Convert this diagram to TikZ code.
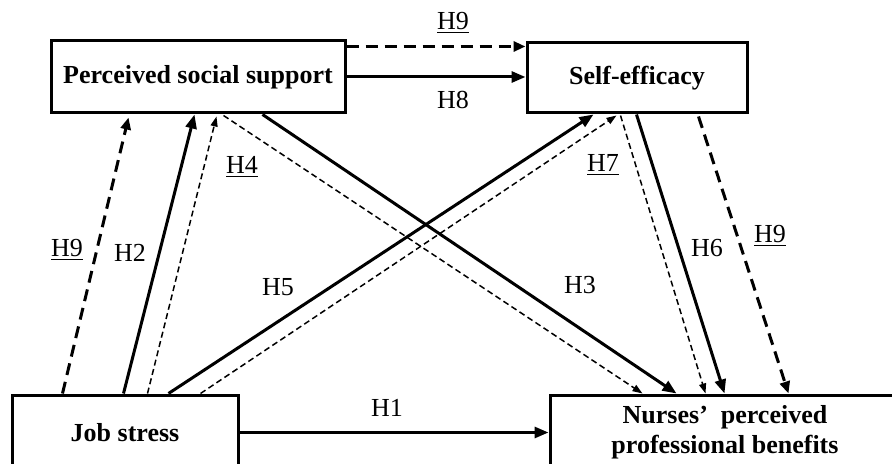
\documentclass[tikz,border=0pt]{standalone}
\usepackage{fontspec}
\setmainfont{Liberation Serif}
\usetikzlibrary{arrows.meta,calc,positioning}
\begin{document}
\begin{tikzpicture}[x=0.5pt,y=-0.5pt,
    bx/.style={draw,line width=1.5pt,inner sep=0pt,align=center,font=\fontsize{13}{15}\selectfont\bfseries},
    hy/.style={inner sep=1pt,font=\fontsize{13}{15}\selectfont},
    sa/.style={line width=1.5pt,-{Triangle[length=7pt,width=5.5pt]}},
    da/.style={line width=1.5pt,dash pattern=on 6pt off 3.5pt,-{Triangle[length=6pt,width=5pt]}},
    fa/.style={line width=0.75pt,dash pattern=on 3pt off 1.8pt,-{Triangle[length=5pt,width=3.5pt]}}]
    \useasboundingbox (0,0) rectangle (892,464);
    \node[bx,minimum width=147pt,minimum height=36pt] (pss) at (198,77) {Perceived social support};
    \node[bx,minimum width=110pt,minimum height=35pt] (se) at (637,78) {Self-efficacy};
    \node[bx,minimum width=113pt,minimum height=37.5pt] (js) at (125,432.5) {Job stress};
    \node[bx,minimum width=175pt,minimum height=37.5pt] (nb) at (725,432.5) {Nurses’~ perceived\\professional benefits};
    \draw[da] ($(pss.north east)+(0,7)$) -- ($(se.north west)+(0,5)$);
    \draw[sa] (pss.east) -- (pss.east -| se.west);
    \draw[da] ($(js.north west)+(52,0)$) -- ($(pss.south west)+(79,3)$);
    \draw[sa] ($(js.north west)+(113,0)$) -- ($(pss.south west)+(145,0)$);
    \draw[fa] ($(js.north west)+(137,0)$) -- ($(pss.south west)+(167,2)$);
    \draw[sa] ($(js.north west)+(158,0)$) -- ($(se.south west)+(68,0)$);
    \draw[fa] ($(js.north west)+(190,0)$) -- ($(se.south west)+(91,1)$);
    \draw[fa] ($(pss.south west)+(174,1)$) -- ($(nb.north west)+(94,0)$);
    \draw[sa] ($(pss.south west)+(213,0)$) -- ($(nb.north west)+(128,0)$);
    \draw[fa] ($(se.south west)+(95,1)$) -- ($(nb.north west)+(157,0)$);
    \draw[sa] ($(se.south west)+(111,0)$) -- ($(nb.north west)+(176,0)$);
    \draw[da] ($(se.south west)+(173,2)$) -- ($(nb.north west)+(240,0)$);
    \draw[sa] (js.east) -- (nb.west);
    \node[hy] (h9a) at (453,23) {\underline{H9}};
    \node[hy] (h8) at (453,100) {H8};
    \node[hy] (h4) at (242,167) {\underline{H4}};
    \node[hy] (h9b) at (67,250) {\underline{H9}};
    \node[hy] (h2) at (130,253) {H2};
    \node[hy] (h5) at (278,287) {H5};
    \node[hy] (h7) at (603,165) {\underline{H7}};
    \node[hy] (h6) at (707,248) {H6};
    \node[hy] (h9c) at (770,236) {\underline{H9}};
    \node[hy] (h3) at (580,285) {H3};
    \node[hy] (h1) at (387,408) {H1};
\end{tikzpicture}
\end{document}
